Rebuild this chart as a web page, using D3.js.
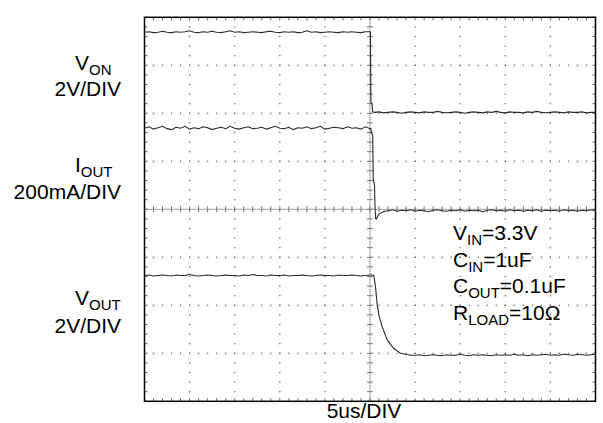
<!DOCTYPE html>
<html>
<head>
<meta charset="utf-8">
<script src="https://cdn.jsdelivr.net/npm/d3@7"></script>
<style>
  body { margin: 0; background: #fff; }
  svg text { font-family: "Liberation Sans", Arial, sans-serif; fill: #000; }
</style>
</head>
<body>
<div id="chart"></div>
<script>
// scope screen: 10 x 8 divisions, 5 minor steps per division
// time in us (5us/DIV, trigger at 0), traces in divisions from screen centre
var sampleStep = 0.5;

// V_ON trace
var vOnBefore = [3.69,3.70,3.68,3.69,3.71,3.69,3.68,3.70,3.69,3.70,3.72,3.69,3.68,3.70,3.69,3.71,3.69,3.68,3.70,3.72,
  3.69,3.70,3.68,3.69,3.70,3.69,3.68,3.70,3.71,3.69,3.68,3.70,3.69,3.70,3.68,3.69,3.72,3.69,3.70,3.68,
  3.69,3.70,3.69,3.68,3.70,3.69,3.70,3.69,3.68,3.70,3.70];
var vOnEdge = [[0.05,3.69],[0.1,2.22],[0.22,2.20],[0.3,2.03]];
var vOnAfter = [2.02,2.03,2.01,2.02,2.03,2.02,2.00,2.02,2.03,2.02,2.01,2.03,2.02,2.02,2.04,2.02,2.01,2.02,2.03,2.02,
  2.00,2.02,2.03,2.02,2.01,2.03,2.02,2.04,2.02,2.01,2.03,2.02,2.02,2.01,2.03,2.02,2.04,2.02,2.01,2.02,
  2.03,2.02,2.01,2.03,2.02,2.02,2.03,2.01,2.02,2.02];

// I_OUT trace
var iOutBefore = [1.69,1.72,1.67,1.70,1.73,1.68,1.66,1.71,1.69,1.73,1.67,1.70,1.68,1.72,1.70,1.66,1.69,1.71,1.68,1.73,
  1.69,1.67,1.70,1.72,1.68,1.69,1.71,1.67,1.70,1.73,1.69,1.68,1.71,1.66,1.70,1.69,1.72,1.68,1.70,1.73,
  1.67,1.69,1.71,1.70,1.68,1.72,1.69,1.70,1.67,1.72,1.68];
var iOutEdge = [[0.1,1.68],[0.18,1.58],[0.3,1.55],[0.36,0.62],[0.5,0.5],[0.56,0.05],[0.62,-0.19],[0.72,-0.2],
  [0.85,-0.14],[1.0,-0.1],[1.25,-0.07],[1.6,-0.04]];
var iOutAfter = [-0.03,-0.01,-0.04,-0.02,-0.03,-0.01,-0.04,-0.02,-0.03,-0.05,-0.02,-0.01,-0.03,-0.04,-0.02,-0.03,
  -0.01,-0.04,-0.02,-0.03,-0.02,-0.05,-0.02,-0.01,-0.03,-0.02,-0.04,-0.01,-0.03,-0.02,-0.04,-0.02,
  -0.03,-0.01,-0.04,-0.02,-0.03,-0.02,-0.04,-0.01,-0.03,-0.02,-0.04,-0.02,-0.03,-0.01,-0.03];

// V_OUT trace
var vOutBefore = [-1.38,-1.37,-1.39,-1.38,-1.37,-1.38,-1.39,-1.37,-1.38,-1.38,-1.36,-1.38,-1.39,-1.38,-1.37,-1.38,
  -1.39,-1.38,-1.37,-1.38,-1.38,-1.39,-1.37,-1.38,-1.36,-1.38,-1.38,-1.39,-1.37,-1.38,-1.38,-1.37,
  -1.39,-1.38,-1.38,-1.37,-1.38,-1.39,-1.38,-1.37,-1.38,-1.38,-1.39,-1.37,-1.38,-1.38,-1.37,-1.38,
  -1.39,-1.38,-1.37];
var vOutEdge = [[0.25,-1.37],[0.42,-1.38],[0.61,-1.61],[0.8,-1.99],[0.98,-2.2],[1.35,-2.45],[1.91,-2.72],
  [2.64,-2.9],[3.38,-3.0],[4.49,-3.04]];
var vOutAfter = [-3.04,-3.03,-3.05,-3.04,-3.03,-3.04,-3.05,-3.03,-3.04,-3.04,-3.02,-3.04,-3.05,-3.03,-3.04,-3.03,
  -3.04,-3.05,-3.03,-3.04,-3.03,-3.04,-3.02,-3.04,-3.03,-3.05,-3.03,-3.04,-3.03,-3.02,-3.04,-3.03,
  -3.04,-3.02,-3.03,-3.04,-3.02,-3.03,-3.04,-3.03,-3.02];

// labels
var channelNames = [["V", "ON"], ["I", "OUT"], ["V", "OUT"]];
var channelScales = ["2V/DIV", "200mA/DIV", "2V/DIV"];
var conditions = [["V", "IN", "=3.3V"], ["C", "IN", "=1uF"], ["C", "OUT", "=0.1uF"], ["R", "LOAD", "=10\u03a9"]];
var timeLabel = "5us/DIV";

function samples(t0, values) {
  return values.map(function(v, i) { return [t0 + i * sampleStep, v]; });
}

var traces = [
  samples(-25, vOnBefore).concat(vOnEdge, samples(0.5, vOnAfter)),
  samples(-25, iOutBefore).concat(iOutEdge, samples(2, iOutAfter)),
  samples(-25, vOutBefore).concat(vOutEdge, samples(5, vOutAfter))
];

var width = 603, height = 423;
var plotLeft = 144.5, plotRight = 595.5, plotTop = 17.3, plotBottom = 401.3;

var x = d3.scaleLinear().domain([-25, 25]).range([plotLeft, plotRight]);
var y = d3.scaleLinear().domain([-4, 4]).range([plotBottom, plotTop]);

var svg = d3.select("#chart")
  .append("svg")
  .attr("width", width)
  .attr("height", height);

// grid dots along major lines
var majorX = d3.range(-20, 21, 5).filter(function(d) { return d !== 0; });
var majorY = d3.range(-3, 4, 1).filter(function(d) { return d !== 0; });
var minorX = d3.range(-25, 25.01, 1);
var minorY = d3.range(-4, 4.01, 0.2);

var grid = svg.append("g").attr("fill", "#555");
majorY.forEach(function(gy) {
  grid.selectAll(null).data(minorX).enter().append("rect")
    .attr("x", function(d) { return x(d) - 0.6; })
    .attr("y", y(gy) - 0.6)
    .attr("width", 1.2).attr("height", 1.2);
});
majorX.forEach(function(gx) {
  grid.selectAll(null).data(minorY).enter().append("rect")
    .attr("x", x(gx) - 0.6)
    .attr("y", function(d) { return y(d) - 0.6; })
    .attr("width", 1.2).attr("height", 1.2);
});

// ticks on the frame edges
var ticks = svg.append("g").attr("stroke", "#666").attr("stroke-width", 1);
ticks.selectAll(null).data(minorX).enter().append("line")
  .attr("x1", function(d) { return x(d); }).attr("x2", function(d) { return x(d); })
  .attr("y1", plotTop).attr("y2", plotTop + 3);
ticks.selectAll(null).data(minorX).enter().append("line")
  .attr("x1", function(d) { return x(d); }).attr("x2", function(d) { return x(d); })
  .attr("y1", plotBottom).attr("y2", plotBottom - 3);
ticks.selectAll(null).data(minorY).enter().append("line")
  .attr("y1", function(d) { return y(d); }).attr("y2", function(d) { return y(d); })
  .attr("x1", plotLeft).attr("x2", plotLeft + 3);
ticks.selectAll(null).data(minorY).enter().append("line")
  .attr("y1", function(d) { return y(d); }).attr("y2", function(d) { return y(d); })
  .attr("x1", plotRight).attr("x2", plotRight - 3);

// centre crosshair
var cross = svg.append("g").attr("stroke", "#444").attr("stroke-width", 1);
cross.append("line")
  .attr("x1", x(0)).attr("x2", x(0)).attr("y1", plotTop).attr("y2", plotBottom)
  .attr("stroke-dasharray", "1,1");
cross.append("line")
  .attr("x1", plotLeft).attr("x2", plotRight).attr("y1", y(0)).attr("y2", y(0))
  .attr("stroke-dasharray", "1,1");
cross.selectAll(null).data(minorY).enter().append("line")
  .attr("stroke", "#777")
  .attr("x1", x(0) - 3).attr("x2", x(0) + 3)
  .attr("y1", function(d) { return y(d); }).attr("y2", function(d) { return y(d); });
cross.selectAll(null).data(minorX).enter().append("line")
  .attr("stroke", "#777")
  .attr("y1", y(0) - 3).attr("y2", y(0) + 3)
  .attr("x1", function(d) { return x(d); }).attr("x2", function(d) { return x(d); });

// frame
svg.append("rect")
  .attr("x", plotLeft).attr("y", plotTop)
  .attr("width", plotRight - plotLeft).attr("height", plotBottom - plotTop)
  .attr("fill", "none")
  .attr("stroke", "#000")
  .attr("stroke-width", 1.5);

// traces
var line = d3.line()
  .x(function(d) { return x(d[0]); })
  .y(function(d) { return y(d[1]); });

svg.selectAll(".trace")
  .data(traces)
  .enter().append("path")
  .attr("class", "trace")
  .attr("d", line)
  .attr("fill", "none")
  .attr("stroke", "#2a2a2a")
  .attr("stroke-width", 1.1);

// channel labels on the left
var nameBase = [70, 172, 305];
var scaleBase = [96, 199, 333];

channelNames.forEach(function(n, i) {
  var t = svg.append("text")
    .attr("x", 75)
    .attr("y", nameBase[i])
    .attr("font-size", 21);
  t.append("tspan").text(n[0]);
  t.append("tspan").attr("font-size", 15).attr("dy", 5).text(n[1]);
});

svg.selectAll(".scale-label")
  .data(channelScales)
  .enter().append("text")
  .attr("class", "scale-label")
  .attr("x", 121)
  .attr("y", function(d, i) { return scaleBase[i]; })
  .attr("text-anchor", "end")
  .attr("font-size", 21)
  .text(function(d) { return d; });

// test conditions
conditions.forEach(function(c, i) {
  var t = svg.append("text")
    .attr("x", 453)
    .attr("y", 240 + i * 26.5)
    .attr("font-size", 21);
  t.append("tspan").text(c[0]);
  t.append("tspan").attr("font-size", 15).attr("dy", 5).text(c[1]);
  t.append("tspan").attr("dy", -5).text(c[2]);
});

// time base
svg.append("text")
  .attr("x", x(0) - 6)
  .attr("y", 418)
  .attr("text-anchor", "middle")
  .attr("font-size", 21)
  .text(timeLabel);
</script>
</body>
</html>
